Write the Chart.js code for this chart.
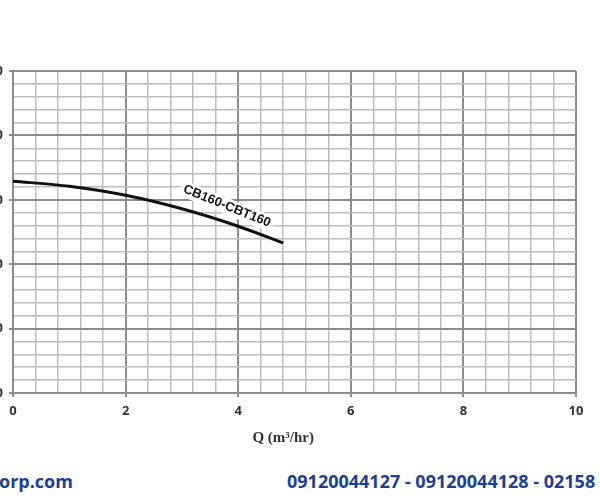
<!DOCTYPE html>
<html>
<head>
    <script src="https://cdn.jsdelivr.net/npm/chart.js@4/dist/chart.umd.min.js"></script>
    <style>
        body {
            margin: 0;
            background: #fff;
            width: 600px;
            height: 501px;
            overflow: hidden;
            position: relative;
        }

        #curveChart {
            position: absolute;
            left: -50px;
            top: 0;
        }

        .footer {
            position: absolute;
            top: 469px;
            font-family: 'Open Sans', sans-serif;
            font-weight: bold;
            font-size: 18px;
            color: #1d3f93;
            white-space: nowrap;
        }
    </style>
</head>
<body>
    <canvas id="curveChart" width="650" height="460"></canvas>
    <div class="footer" style="left:-1px">orp.com</div>
    <div class="footer" style="left:287px">09120044127 - 09120044128 - 02158</div>

    <script>
        // flow (m3/hr) and head (m)
        const flow = [0, 1, 2, 3, 4, 4.8];
        const head = [32.9, 32.1, 30.7, 28.6, 25.9, 23.3];
        const curveLabel = 'CB160-CBT160';

        const xTickLabels = [0, 2, 4, 6, 8, 10];
        const yTickLabels = [0, 10, 20, 30, 40, 50];
        const xMinorStep = 0.4;
        const yMinorStep = 2;

        function gridValues(max, step) {
            const out = [];
            for (let i = 0; i * step <= max + 1e-9; i++) out.push(+(i * step).toFixed(4));
            return out;
        }

        const isMajor = (v, list) => list.some(t => Math.abs(t - v) < 1e-6);

        const labelPlugin = {
            id: 'curveText',
            afterDatasetsDraw(chart) {
                const { ctx, scales } = chart;
                // curve name, written along the line
                ctx.save();
                ctx.translate(scales.x.getPixelForValue(3.8), scales.y.getPixelForValue(29.0));
                ctx.rotate(22 * Math.PI / 180);
                ctx.font = 'bold 13px "Liberation Sans", sans-serif';
                const w = ctx.measureText(curveLabel).width;
                ctx.fillStyle = '#fff';
                ctx.fillRect(-w / 2 - 3, -8, w + 6, 16);
                ctx.fillStyle = '#111';
                ctx.textAlign = 'center';
                ctx.textBaseline = 'middle';
                ctx.fillText(curveLabel, 0, 0);
                ctx.restore();

                // axis title
                ctx.save();
                ctx.font = 'bold 15px "Liberation Serif", serif';
                ctx.fillStyle = '#333';
                ctx.textAlign = 'center';
                ctx.textBaseline = 'middle';
                ctx.fillText('Q (m³/hr)', scales.x.getPixelForValue(4.8), 438);
                ctx.restore();
            }
        };

        const ctx = document.getElementById('curveChart').getContext('2d');
        new Chart(ctx, {
            type: 'line',
            data: {
                datasets: [{
                    data: flow.map((q, i) => ({ x: q, y: head[i] })),
                    borderColor: '#111',
                    borderWidth: 3,
                    pointRadius: 0,
                    tension: 0.3,
                    fill: false
                }]
            },
            options: {
                responsive: false,
                animation: false,
                layout: { padding: { top: 71, right: 24, bottom: 27, left: 0 } },
                plugins: {
                    legend: { display: false },
                    tooltip: { enabled: false }
                },
                scales: {
                    x: {
                        type: 'linear',
                        min: 0,
                        max: 10,
                        afterBuildTicks(scale) {
                            scale.ticks = gridValues(10, xMinorStep).map(v => ({ value: v }));
                        },
                        afterFit(scale) { scale.height = 40; },
                        grid: {
                            color: c => isMajor(c.tick.value, xTickLabels) ? '#8c8c8c' : '#bdbdbd',
                            lineWidth: c => isMajor(c.tick.value, xTickLabels) ? 2 : 1.5,
                            tickColor: c => isMajor(c.tick.value, xTickLabels) ? '#8c8c8c' : 'rgba(0,0,0,0)',
                            tickLength: 4
                        },
                        border: { color: '#8c8c8c', width: 2 },
                        ticks: {
                            autoSkip: false,
                            maxRotation: 0,
                            padding: 6,
                            color: '#333',
                            font: { family: 'Open Sans', size: 13, weight: 'bold' },
                            callback: v => isMajor(v, xTickLabels) ? String(Math.round(v)) : ''
                        }
                    },
                    y: {
                        type: 'linear',
                        min: 0,
                        max: 50,
                        afterBuildTicks(scale) {
                            scale.ticks = gridValues(50, yMinorStep).map(v => ({ value: v }));
                        },
                        afterFit(scale) { scale.width = 63; },
                        grid: {
                            color: c => isMajor(c.tick.value, yTickLabels) ? '#8c8c8c' : '#bdbdbd',
                            lineWidth: c => isMajor(c.tick.value, yTickLabels) ? 2 : 1.5,
                            tickColor: c => isMajor(c.tick.value, yTickLabels) ? '#8c8c8c' : 'rgba(0,0,0,0)',
                            tickLength: 4
                        },
                        border: { color: '#8c8c8c', width: 2 },
                        ticks: {
                            autoSkip: false,
                            padding: 6,
                            color: '#333',
                            font: { family: 'Open Sans', size: 13, weight: 'bold' },
                            callback: v => isMajor(v, yTickLabels) ? String(Math.round(v)) : ''
                        }
                    }
                }
            },
            plugins: [labelPlugin]
        });
    </script>
</body>
</html>
